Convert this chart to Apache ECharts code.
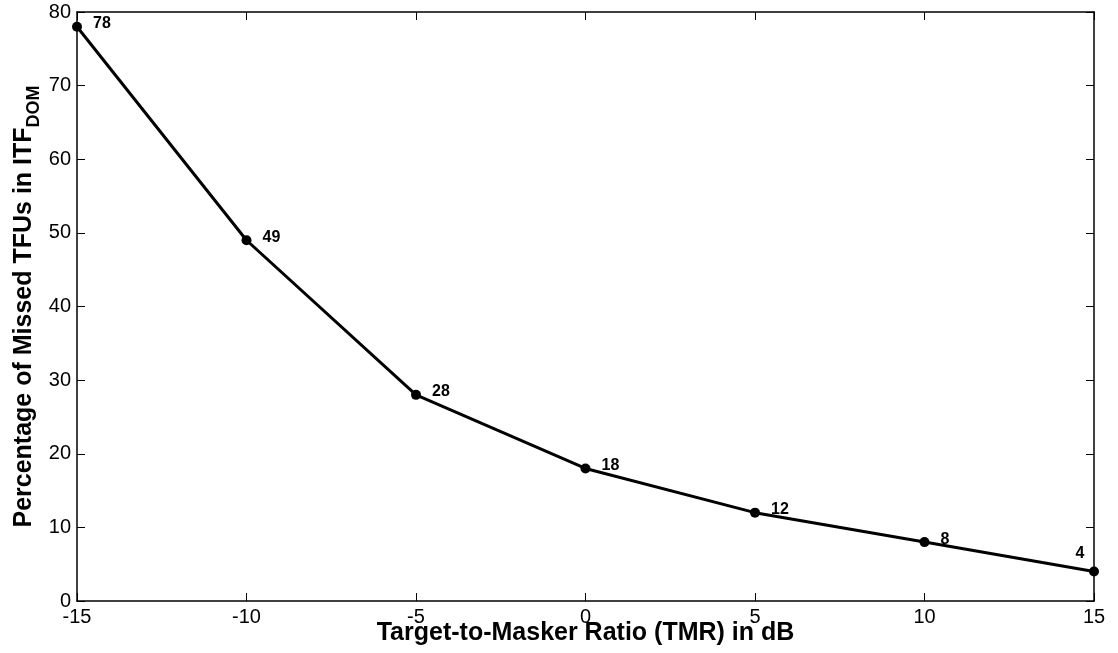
<!DOCTYPE html>
<html>
<head>
<meta charset="utf-8">
<script src="https://cdn.jsdelivr.net/npm/echarts@6/dist/echarts.min.js"></script>
<style>html,body{margin:0;padding:0;background:#fff;}#c{width:1118px;height:653px;}</style>
</head>
<body>
<div id="c"></div>
<script>
const tmr = [-15, -10, -5, 0, 5, 10, 15];
const missed = [78, 49, 28, 18, 12, 8, 4];
const xTicks = [-15, -10, -5, 0, 5, 10, 15];
const yTicks = [0, 10, 20, 30, 40, 50, 60, 70, 80];

const chart = echarts.init(document.getElementById('c'));
const font = 'Liberation Sans, Arial, sans-serif';
const data = tmr.map((x, i) => {
  const d = { value: [x, missed[i]] };
  if (i === tmr.length - 1) {
    d.label = { position: 'top', offset: [-14, 0] };
  }
  return d;
});
const tickStyle = { show: true, inside: true, length: 8, lineStyle: { color: '#000', width: 1 } };
const lineStyle = { show: true, onZero: false, lineStyle: { color: '#000', width: 1.5 } };
chart.setOption({
  animation: false,
  backgroundColor: '#fff',
  grid: { left: 77, right: 24, top: 12, bottom: 52, containLabel: false, outerBoundsMode: 'none' },
  xAxis: [{
    type: 'value', min: -15, max: 15, interval: 5,
    name: 'Target-to-Masker Ratio (TMR) in dB', nameLocation: 'middle', nameGap: 20,
    nameMoveOverlap: false,
    nameTextStyle: { fontFamily: font, fontWeight: 'bold', fontSize: 25, color: '#000' },
    axisLine: lineStyle,
    axisTick: tickStyle,
    axisLabel: { fontFamily: font, fontSize: 20, color: '#000', margin: 6 },
    splitLine: { show: false }
  }, {
    type: 'value', min: -15, max: 15, interval: 5, position: 'top',
    axisLine: lineStyle,
    axisTick: tickStyle,
    axisLabel: { show: false }, splitLine: { show: false }
  }],
  yAxis: [{
    type: 'value', min: 0, max: 80, interval: 10,
    name: '{a|Percentage of Missed TFUs in ITF}{b|DOM}',
    nameLocation: 'middle', nameGap: 34, nameRotate: 90,
    nameMoveOverlap: false,
    nameTextStyle: {
      fontFamily: font, fontWeight: 'bold', fontSize: 25, color: '#000',
      rich: {
        a: { fontFamily: font, fontWeight: 'bold', fontSize: 25, color: '#000', lineHeight: 31, verticalAlign: 'top' },
        b: { fontFamily: font, fontWeight: 'bold', fontSize: 18, color: '#000', lineHeight: 31, verticalAlign: 'bottom' }
      }
    },
    axisLine: lineStyle,
    axisTick: tickStyle,
    axisLabel: { fontFamily: font, fontSize: 20, color: '#000', margin: 6 },
    splitLine: { show: false }
  }, {
    type: 'value', min: 0, max: 80, interval: 10, position: 'right',
    axisLine: lineStyle,
    axisTick: tickStyle,
    axisLabel: { show: false }, splitLine: { show: false }
  }],
  series: [{
    type: 'line',
    data: data,
    symbol: 'circle', symbolSize: 10,
    lineStyle: { color: '#000', width: 3 },
    itemStyle: { color: '#000' },
    clip: false,
    label: {
      show: true, position: 'right', offset: [6, -3],
      fontFamily: font, fontWeight: 'bold', fontSize: 16, color: '#000',
      formatter: p => p.value[1]
    }
  }]
});
</script>
</body>
</html>
